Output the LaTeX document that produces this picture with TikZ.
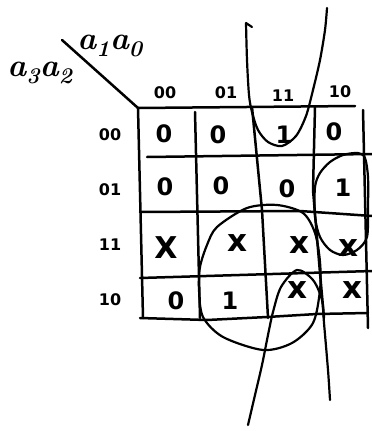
\documentclass[tikz,border=0pt]{standalone}
\usepackage{fontspec}
\newfontfamily\handfont{DejaVu Sans}
\begin{document}
\begin{tikzpicture}[x=1pt,y=-1pt,line cap=round,line join=round,
  gridline/.style={line width=2.5pt},
  ring/.style={line width=2.2pt},
  val/.style={font=\handfont\bfseries\fontsize{24}{26}\selectfont,inner sep=0pt},
  xval/.style={font=\handfont\bfseries\fontsize{31}{33}\selectfont,inner sep=0pt},
  bigx/.style={font=\handfont\bfseries\fontsize{30}{32}\selectfont,inner sep=0pt},
  lab/.style={font=\handfont\bfseries\fontsize{16}{18}\selectfont,inner sep=0pt},
  varlab/.style={font=\fontsize{32}{34}\selectfont\bfseries\itshape,inner sep=0pt}]
\useasboundingbox (0,0) rectangle (372,431);
% variable labels and diagonal
\node[varlab] (a10) at (110,46) {a\textsubscript{1}a\textsubscript{0}};
\node[varlab] (a32) at (40,73) {a\textsubscript{3}a\textsubscript{2}};
\coordinate (dstart) at (62,40);
\coordinate (corner) at (138,108);
\draw[gridline] (dstart) -- (corner);
% grid
\draw[gridline] (corner) -- (355,106);
\draw[gridline] (corner) -- (143,318);
\draw[gridline] (140,318) -- (207,320) -- (267,317) -- (317,314) -- (368,313);
\draw[gridline] (147,157) -- (372,154);
\draw[gridline] (140,212) -- (300,211) -- (372,216);
\draw[gridline] (140,278) -- (372,271);
\draw[gridline] (195,112) -- (200,318);
\draw[gridline] (252,107) -- (262,210) -- (268,318);
\draw[gridline] (315,107) -- (313,190) -- (320,273) -- (324,318);
\draw[gridline] (363,110) -- (368,328);
% column labels
\node[lab] (c00) at (165,93) {00};
\node[lab] (c01) at (226,93) {01};
\node[lab] (c11) at (283,96) {11};
\node[lab] (c10) at (340,92) {10};
% row labels
\node[lab] (r00) at (110,135) {00};
\node[lab] (r01) at (110,190) {01};
\node[lab] (r11) at (110,245) {11};
\node[lab] (r10) at (110,300) {10};
% cell values
\node[val] (v0000) at (164,134) {0};
\node[val] (v0001) at (218,135) {0};
\node[val] (v0011) at (284,135) {1};
\node[val] (v0010) at (334,132) {0};
\node[val] (v0100) at (165,187) {0};
\node[val] (v0101) at (221,186) {0};
\node[val] (v0111) at (287,189) {0};
\node[val] (v0110) at (343,188) {1};
\node[bigx] (v1100) at (166,248) {X};
\node[xval] (v1101) at (237,243) {x};
\node[xval] (v1111) at (299,245) {x};
\node[xval] (v1110) at (348,248) {x};
\node[val] (v1000) at (176,301) {0};
\node[val] (v1001) at (230,301) {1};
\node[xval] (v1011) at (297,290) {x};
\node[xval] (v1010) at (352,290) {x};
% loops
\draw[ring] (252,27) -- (246,23) plot[smooth] coordinates {(246,23) (247,60) (249,95) (252,112) (258,130) (268,142) (282,146) (296,136) (306,116) (313,90) (320,60) (325,30) (327,8)};
\draw[ring] plot[smooth cycle] coordinates {(315,187) (320,173) (330,162) (343,155) (358,153) (365,158) (368,177) (368,207) (367,237) (357,250) (343,255) (330,250) (320,237) (315,217)};
\draw[ring] plot[smooth cycle] coordinates {(200,267) (207,245) (217,227) (247,208) (277,205) (303,213) (315,233) (320,262) (320,290) (313,323) (292,343) (263,350) (223,337) (203,317) (199,290)};
\draw[ring] plot[smooth] coordinates {(248,425) (255,395) (262,365) (268,335) (273,312) (281,287) (297,270) (313,280) (322,300) (324,323) (328,370) (330,400)};
\end{tikzpicture}
\end{document}
